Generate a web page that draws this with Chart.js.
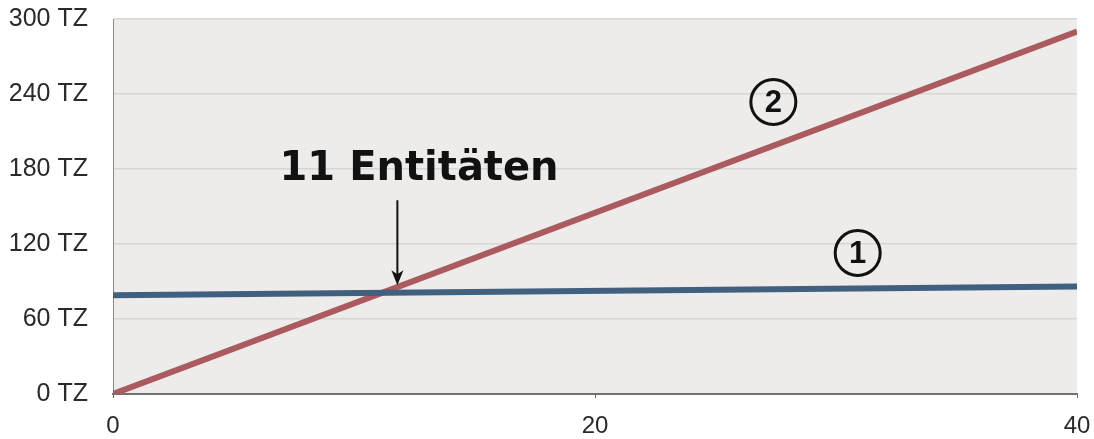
<!DOCTYPE html>
<html>
<head>
<meta charset="utf-8">
<script src="https://cdn.jsdelivr.net/npm/chart.js@4/dist/chart.umd.min.js"></script>
<style>
  html, body { margin: 0; padding: 0; background: #ffffff; }
  #wrap { width: 1094px; height: 439px; }
</style>
</head>
<body>
<div id="wrap"><canvas id="chart" width="1094" height="439"></canvas></div>
<script>
// x positions (Entitäten) and the two series (TZ)
const xValues = [0, 40];
const seriesOne = [79, 86];   // ① flat line
const seriesTwo = [0, 290];   // ② rising line
const yTicks = [0, 60, 120, 180, 240, 300];
const xTicks = [0, 20, 40];

const toPoints = (ys) => xValues.map((x, i) => ({ x: x, y: ys[i] }));

// Grey plot background behind the chart area
const plotBackground = {
  id: "plotBackground",
  beforeDraw(chart) {
    const { ctx, chartArea: a } = chart;
    ctx.save();
    ctx.fillStyle = "#eeecea";
    ctx.fillRect(a.left, a.top, a.right - a.left, a.bottom - a.top);
    ctx.restore();
  },
};

// Text, arrow and circled numbers, placed in data units
const annotations = {
  id: "annotations",
  afterDatasetsDraw(chart) {
    const { ctx } = chart;
    const xs = chart.scales.x;
    const ys = chart.scales.y;
    ctx.save();

    // "11 Entitäten"
    ctx.fillStyle = "#111111";
    ctx.font = "bold 40px 'DejaVu Sans', sans-serif";
    ctx.textAlign = "center";
    ctx.textBaseline = "alphabetic";
    ctx.fillText("11 Entitäten", xs.getPixelForValue(12.7), ys.getPixelForValue(171));

    // arrow down to the crossing
    const ax = xs.getPixelForValue(11.8);
    const ay1 = ys.getPixelForValue(155);
    const ay2 = ys.getPixelForValue(87);
    ctx.strokeStyle = "#111111";
    ctx.lineWidth = 2;
    ctx.beginPath();
    ctx.moveTo(ax, ay1);
    ctx.lineTo(ax, ay2 - 10);
    ctx.stroke();
    ctx.beginPath();
    ctx.moveTo(ax, ay2);
    ctx.lineTo(ax - 6, ay2 - 15);
    ctx.lineTo(ax, ay2 - 11);
    ctx.lineTo(ax + 6, ay2 - 15);
    ctx.closePath();
    ctx.fill();

    // circled labels
    const circled = [
      { label: "2", x: 27.4, y: 233.6 },
      { label: "1", x: 30.9, y: 112.8 },
    ];
    circled.forEach((c) => {
      const cx = xs.getPixelForValue(c.x);
      const cy = ys.getPixelForValue(c.y);
      ctx.beginPath();
      ctx.arc(cx, cy, 22.5, 0, Math.PI * 2);
      ctx.lineWidth = 3;
      ctx.stroke();
      ctx.font = "bold 31px 'Liberation Sans', Arial, sans-serif";
      ctx.textBaseline = "middle";
      ctx.fillText(c.label, cx, cy + 1);
    });

    ctx.restore();
  },
};

new Chart(document.getElementById("chart"), {
  type: "line",
  plugins: [plotBackground, annotations],
  data: {
    datasets: [
      {
        label: "①",
        data: toPoints(seriesOne),
        borderColor: "#41607f",
        borderWidth: 6,
        pointRadius: 0,
        order: 0,
      },
      {
        label: "②",
        data: toPoints(seriesTwo),
        borderColor: "#ab5a5f",
        borderWidth: 6,
        pointRadius: 0,
        order: 1,
      },
    ],
  },
  options: {
    responsive: false,
    animation: false,
    layout: { padding: { top: 19, right: 17, bottom: 0, left: 0 } },
    plugins: {
      legend: { display: false },
      tooltip: { enabled: false },
    },
    scales: {
      x: {
        type: "linear",
        min: 0,
        max: 40,
        afterBuildTicks: (scale) => {
          scale.ticks = xTicks.map((v) => ({ value: v }));
        },
        afterFit: (scale) => {
          scale.height = 45;
          scale.paddingLeft = 0;
          scale.paddingRight = 0;
        },
        grid: {
          drawOnChartArea: false,
          drawTicks: true,
          tickLength: 4,
          color: "#666666",
        },
        border: { color: "#707070", width: 2 },
        ticks: {
          padding: 14,
          color: "#2a2a2a",
          font: { family: "'Liberation Sans', Arial, sans-serif", size: 24 },
        },
      },
      y: {
        min: 0,
        max: 300,
        afterBuildTicks: (scale) => {
          scale.ticks = yTicks.map((v) => ({ value: v }));
        },
        afterFit: (scale) => {
          scale.width = 113;
          scale.paddingTop = 0;
          scale.paddingBottom = 0;
        },
        grid: {
          drawTicks: false,
          color: "#d6d6d6",
          lineWidth: 1.5,
        },
        border: { color: "#8a8a8a", width: 1 },
        ticks: {
          padding: 25,
          color: "#2a2a2a",
          font: { family: "'Liberation Sans', Arial, sans-serif", size: 25 },
          callback: (v) => v + " TZ",
        },
      },
    },
  },
});
</script>
</body>
</html>
